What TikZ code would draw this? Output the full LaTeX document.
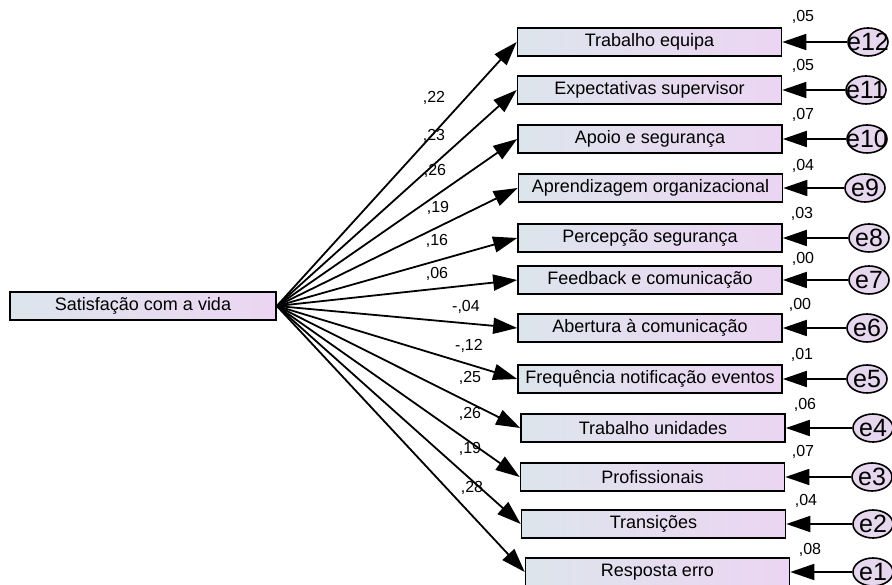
\documentclass[tikz,border=0pt]{standalone}
\usepackage{fontspec}
\setmainfont{Liberation Sans}
\usetikzlibrary{arrows.meta,shapes.geometric}
\definecolor{boxL}{RGB}{221,229,236}
\definecolor{boxR}{RGB}{236,213,242}
\definecolor{errfill}{RGB}{230,214,238}
\begin{document}
\begin{tikzpicture}[x=1pt,y=-1pt,
  var/.style={draw=black, line width=1.6pt, left color=boxL, right color=boxR,
    minimum width=264pt, minimum height=28pt, inner sep=0pt,
    font=\fontsize{18}{20}\selectfont},
  err/.style={ellipse, draw=black, line width=1.6pt, fill=errfill,
    minimum width=40pt, minimum height=28pt, inner sep=0pt,
    font=\fontsize{25}{26}\selectfont},
  reg/.style={line width=1.8pt, -{Triangle[length=24pt,width=16pt]}},
  coef/.style={font=\fontsize{16}{17}\selectfont, inner sep=0pt}]
\useasboundingbox (0,0) rectangle (892,585);

\node[var, minimum width=266pt] (src) at (143,306) {Satisfação com a vida};

\node[var] (b1)  at (649.5,42)  {Trabalho equipa};
\node[var] (b2)  at (649.5,90)  {Expectativas supervisor};
\node[var] (b3)  at (650,139)   {Apoio e segurança};
\node[var] (b4)  at (650.5,188) {Aprendizagem organizacional};
\node[var] (b5)  at (650,238)   {Percepção segurança};
\node[var] (b6)  at (650,280)   {Feedback e comunicação};
\node[var] (b7)  at (650,328)   {Abertura à comunicação};
\node[var] (b8)  at (650,379)   {Frequência notificação eventos};
\node[var] (b9)  at (653,428)   {Trabalho unidades};
\node[var] (b10) at (652.5,477) {Profissionais};
\node[var] (b11) at (653.5,524) {Transições};
\node[var] (b12) at (657.5,572) {Resposta erro};

\node[err] (r12) at (868,42)  {\makebox[0pt]{e12}};
\node[err] (r11) at (866,90)  {\makebox[0pt]{e11}};
\node[err] (r10) at (867,139) {\makebox[0pt]{e10}};
\node[err] (r9)  at (865,188) {\makebox[0pt]{e9}};
\node[err] (r8)  at (869,238) {\makebox[0pt]{e8}};
\node[err] (r7)  at (869,280) {\makebox[0pt]{e7}};
\node[err] (r6)  at (867,328) {\makebox[0pt]{e6}};
\node[err] (r5)  at (867,379) {\makebox[0pt]{e5}};
\node[err] (r4)  at (873,428) {\makebox[0pt]{e4}};
\node[err] (r3)  at (872,477) {\makebox[0pt]{e3}};
\node[err] (r2)  at (873,524) {\makebox[0pt]{e2}};
\node[err] (r1)  at (873,572) {\makebox[0pt]{e1}};

\foreach \i in {1,...,12}{
  \draw[reg] (src.east) -- (b\i.west);
}

\draw[reg] (r12.west) -- (b1.east);
\draw[reg] (r11.west) -- (b2.east);
\draw[reg] (r10.west) -- (b3.east);
\draw[reg] (r9.west)  -- (b4.east);
\draw[reg] (r8.west)  -- (b5.east);
\draw[reg] (r7.west)  -- (b6.east);
\draw[reg] (r6.west)  -- (b7.east);
\draw[reg] (r5.west)  -- (b8.east);
\draw[reg] (r4.west)  -- (b9.east);
\draw[reg] (r3.west)  -- (b10.east);
\draw[reg] (r2.west)  -- (b11.east);
\draw[reg] (r1.west)  -- (b12.east);

\node[coef] (c1)  at (434,98)  {,22};
\node[coef] (c2)  at (434,136) {,23};
\node[coef] (c3)  at (435,171) {,26};
\node[coef] (c4)  at (438,208) {,19};
\node[coef] (c5)  at (437,241) {,16};
\node[coef] (c6)  at (437,274) {,06};
\node[coef] (c7)  at (466,307) {-,04};
\node[coef] (c8)  at (469,346) {-,12};
\node[coef] (c9)  at (470,378) {,25};
\node[coef] (c10) at (470,414) {,26};
\node[coef] (c11) at (470,449) {,19};
\node[coef] (c12) at (472,488) {,28};

\node[coef] (v1)  at (803,17)  {,05};
\node[coef] (v2)  at (803,66)  {,05};
\node[coef] (v3)  at (803,115) {,07};
\node[coef] (v4)  at (803,166) {,04};
\node[coef] (v5)  at (802,214) {,03};
\node[coef] (v6)  at (803,259) {,00};
\node[coef] (v7)  at (800,305) {,00};
\node[coef] (v8)  at (802,355) {,01};
\node[coef] (v9)  at (805,405) {,06};
\node[coef] (v10) at (803,452) {,07};
\node[coef] (v11) at (806,501) {,04};
\node[coef] (v12) at (810,550) {,08};
\end{tikzpicture}
\end{document}
